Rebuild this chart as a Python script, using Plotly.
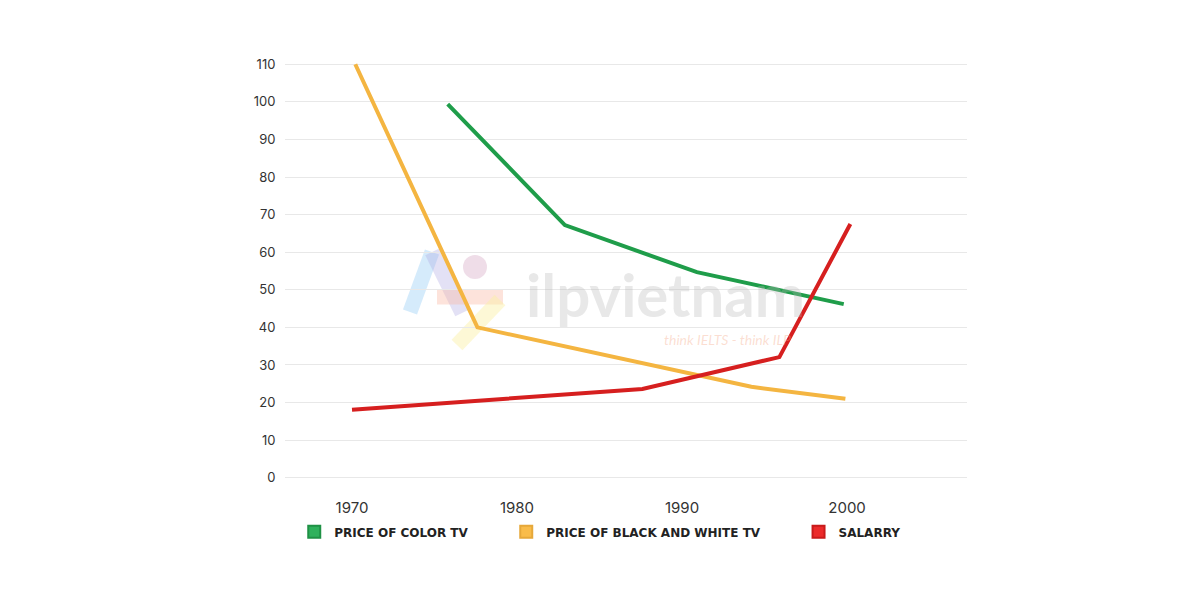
import plotly.graph_objects as go

# Data
color_tv_years = [1975.8, 1982.9, 1990.9, 1999.8]
color_tv_price = [99.4, 67.2, 54.7, 46.2]

bw_tv_years = [1970.2, 1977.6, 1994.2, 1999.9]
bw_tv_price = [110.0, 40.0, 24.2, 21.0]

salary_years = [1970.0, 1987.6, 1995.9, 2000.2]
salary_values = [18.1, 23.6, 32.1, 67.5]

x_ticks = [1970, 1980, 1990, 2000]
y_ticks = list(range(0, 111, 10))

names = ["PRICE OF COLOR TV", "PRICE OF BLACK AND WHITE TV", "SALARRY"]
line_colors = ["#1f9d4a", "#f4b541", "#d61f1f"]
legend_colors = ["#2fb15c", "#f9bc4a", "#ec2a2a"]
legend_borders = ["#1f9145", "#e6a83a", "#c81b1b"]

pad = "\u00a0" * 8

fig = go.Figure()
series = [(color_tv_years, color_tv_price), (bw_tv_years, bw_tv_price), (salary_years, salary_values)]
for (xs, ys), c in zip(series, line_colors):
    fig.add_trace(go.Scatter(x=xs, y=ys, mode="lines", line=dict(color=c, width=4),
                             showlegend=False, hoverinfo="skip"))

for i, n in enumerate(names):
    fig.add_trace(go.Scatter(x=[None], y=[None], mode="markers", name=n + (pad if i < 2 else ""),
                             marker=dict(symbol="square", size=15, color=legend_colors[i],
                                         line=dict(color=legend_borders[i], width=1))))


# watermark (decoration, placed in paper coordinates)
def px(x):
    return (x - 285) / 682.0


def py(y):
    return (480 - y) / 418.0


logo_bars = [
    ((410, 312), (432, 252), "rgba(150,205,245,0.40)"),
    ((432, 252), (462, 313), "rgba(175,170,225,0.35)"),
    ((437, 297), (503, 297), "rgba(250,185,165,0.40)"),
    ((500, 300), (457, 345), "rgba(250,240,165,0.45)"),
]
for (x0, y0), (x1, y1), col in logo_bars:
    fig.add_shape(type="line", xref="paper", yref="paper", x0=px(x0), y0=py(y0), x1=px(x1), y1=py(y1),
                  line=dict(color=col, width=15), layer="below")
fig.add_shape(type="circle", xref="paper", yref="paper", x0=px(463), y0=py(255), x1=px(487), y1=py(279),
              fillcolor="rgba(220,180,205,0.45)", line=dict(width=0), layer="below")

fig.add_annotation(text="ilpvietnam", x=px(665), y=py(294), xref="paper", yref="paper",
                   showarrow=False, font=dict(family="Lato, sans-serif", size=60, color="rgba(185,185,185,0.32)", weight="bold"))
fig.add_annotation(text="<i>think IELTS - think ILP</i>", x=px(727), y=py(339), xref="paper", yref="paper",
                   showarrow=False, font=dict(family="Lato, sans-serif", size=14, color="rgba(245,160,125,0.35)"))

fig.update_layout(
    width=1200, height=600,
    margin=dict(l=277, r=241, t=54, b=128),
    paper_bgcolor="white", plot_bgcolor="white",
    font=dict(family="Inter, 'Open Sans', sans-serif", color="#333333"),
    xaxis=dict(range=[1965.94, 2007.27], tickvals=x_ticks, showgrid=False, zeroline=False,
               showline=False, ticks="outside", ticklen=14, tickcolor="rgba(0,0,0,0)",
               tickfont=dict(size=15, color="#333333")),
    yaxis=dict(range=[-0.6, 110.6], tickvals=y_ticks, showgrid=True, gridcolor="#e8e8e8",
               gridwidth=1, zeroline=True, zerolinecolor="#e8e8e8", zerolinewidth=1,
               showline=False, ticks="outside", ticklen=6, tickcolor="rgba(0,0,0,0)",
               tickfont=dict(size=13, color="#333333")),
    legend=dict(orientation="h", x=0.4615, xanchor="center", y=-0.124, yanchor="middle",
                font=dict(family="'DejaVu Sans', sans-serif", size=12, color="#222222", weight="bold"),
                itemsizing="constant"),
)

fig.write_html("out.html")
